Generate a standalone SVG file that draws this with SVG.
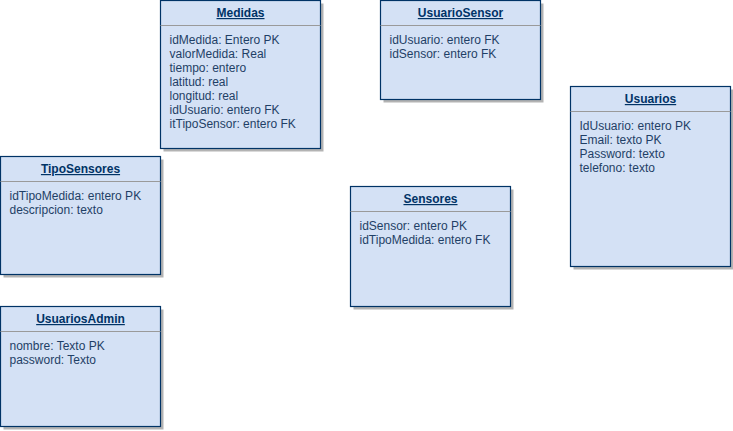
<svg xmlns="http://www.w3.org/2000/svg" width="733" height="431" viewBox="0 0 733 431">
<style>
.sh{fill:#b3b3b3;}
.bx{fill:#d4e1f5;stroke:#003366;stroke-width:1.2;}
.dv{stroke:#9a9a9a;stroke-width:1;}
.t{font-family:"Liberation Sans",Arial,sans-serif;font-size:12px;fill:#003366;font-weight:bold;text-decoration:underline;text-anchor:middle;}
.a{font-family:"Liberation Sans",Arial,sans-serif;font-size:12px;fill:#1f3f66;}
</style>
<rect width="733" height="431" fill="#ffffff"/>
<g id="Medidas">
<rect class="sh" x="163.5" y="3.5" width="160" height="148"/>
<rect class="bx" x="160.5" y="0.5" width="160" height="148"/>
<line class="dv" x1="160.5" y1="25.5" x2="320.5" y2="25.5"/>
<text class="t" x="240.5" y="17">Medidas</text>
<text class="a" x="169.5" y="44">idMedida: Entero PK</text>
<text class="a" x="169.5" y="58">valorMedida: Real</text>
<text class="a" x="169.5" y="72">tiempo: entero</text>
<text class="a" x="169.5" y="86">latitud: real</text>
<text class="a" x="169.5" y="100">longitud: real</text>
<text class="a" x="169.5" y="114">idUsuario: entero FK</text>
<text class="a" x="169.5" y="128">itTipoSensor: entero FK</text>
</g>
<g id="UsuarioSensor">
<rect class="sh" x="383.5" y="3.5" width="160" height="99"/>
<rect class="bx" x="380.5" y="0.5" width="160" height="99"/>
<line class="dv" x1="380.5" y1="25.5" x2="540.5" y2="25.5"/>
<text class="t" x="460.5" y="17">UsuarioSensor</text>
<text class="a" x="389.5" y="44">idUsuario: entero FK</text>
<text class="a" x="389.5" y="58">idSensor: entero FK</text>
</g>
<g id="Usuarios">
<rect class="sh" x="573.5" y="89.5" width="160" height="180"/>
<rect class="bx" x="570.5" y="86.5" width="160" height="180"/>
<line class="dv" x1="570.5" y1="111.5" x2="730.5" y2="111.5"/>
<text class="t" x="650.5" y="103">Usuarios</text>
<text class="a" x="579.5" y="130">IdUsuario: entero PK</text>
<text class="a" x="579.5" y="144">Email: texto PK</text>
<text class="a" x="579.5" y="158">Password: texto</text>
<text class="a" x="579.5" y="172">telefono: texto</text>
</g>
<g id="TipoSensores">
<rect class="sh" x="3.5" y="159.5" width="160" height="118"/>
<rect class="bx" x="0.5" y="156.5" width="160" height="118"/>
<line class="dv" x1="0.5" y1="181.5" x2="160.5" y2="181.5"/>
<text class="t" x="80.5" y="173">TipoSensores</text>
<text class="a" x="9.5" y="200">idTipoMedida: entero PK</text>
<text class="a" x="9.5" y="214">descripcion: texto</text>
</g>
<g id="Sensores">
<rect class="sh" x="353.5" y="189.5" width="160" height="120"/>
<rect class="bx" x="350.5" y="186.5" width="160" height="120"/>
<line class="dv" x1="350.5" y1="211.5" x2="510.5" y2="211.5"/>
<text class="t" x="430.5" y="203">Sensores</text>
<text class="a" x="359.5" y="230">idSensor: entero PK</text>
<text class="a" x="359.5" y="244">idTipoMedida: entero FK</text>
</g>
<g id="UsuariosAdmin">
<rect class="sh" x="3.5" y="309.5" width="160" height="120"/>
<rect class="bx" x="0.5" y="306.5" width="160" height="120"/>
<line class="dv" x1="0.5" y1="331.5" x2="160.5" y2="331.5"/>
<text class="t" x="80.5" y="323">UsuariosAdmin</text>
<text class="a" x="9.5" y="350">nombre: Texto PK</text>
<text class="a" x="9.5" y="364">password: Texto</text>
</g>
<g id="connectors"></g>
</svg>
